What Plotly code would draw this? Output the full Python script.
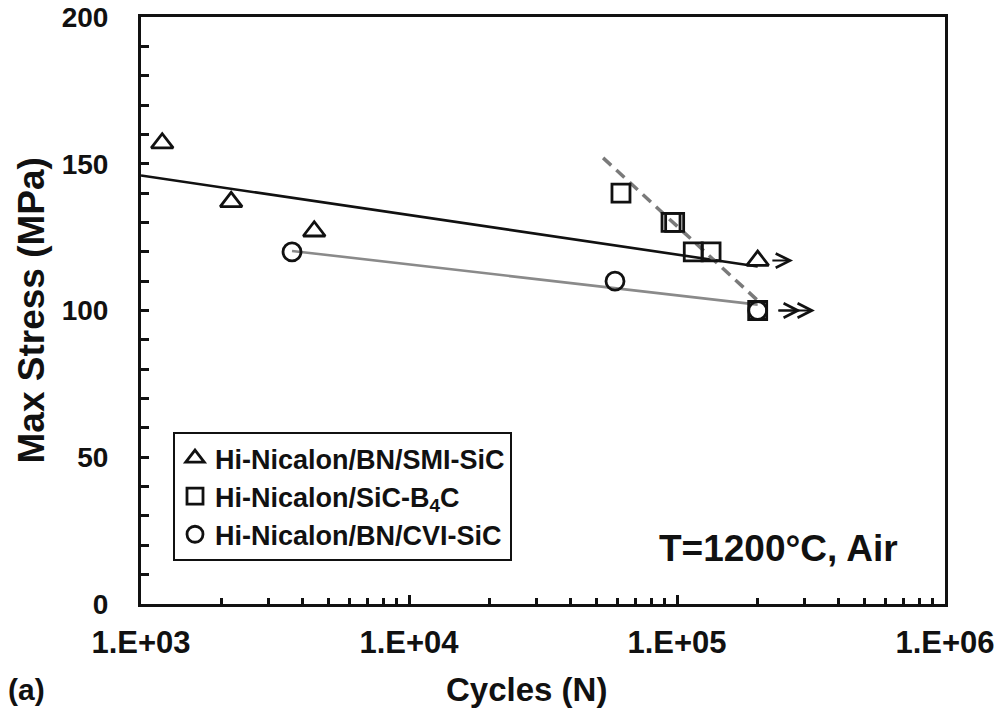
import numpy as np
import plotly.graph_objects as go

# ---------------- data ----------------
smi_cycles = [1200, 2170, 4430, 200000]
smi_stress = [157, 137, 127, 117]

b4c_cycles = [61800, 95000, 98000, 115000, 134000, 200000]
b4c_stress = [140, 130, 130, 120, 120, 100]

cvi_cycles = [3660, 58700, 200000]
cvi_stress = [120, 110, 100]

fit_smi_x = [1000, 200000]
fit_smi_y = [146, 115]
fit_cvi_x = [3660, 200000]
fit_cvi_y = [120.3, 102]
fit_b4c_x = [53000, 205000]
fit_b4c_y = [152, 102.5]

# run-out arrows: (tail cycles, head cycles, stress)
runout_arrows = [
    (224000, 271000, 117),
    (236000, 327000, 100),
    (236000, 290000, 100),
]

legend_names = ["Hi-Nicalon/BN/SMI-SiC", "Hi-Nicalon/SiC-B<sub>4</sub>C", "Hi-Nicalon/BN/CVI-SiC"]
xtick_vals = [1e3, 1e4, 1e5, 1e6]
xtick_text = ["1.E+03", "1.E+04", "1.E+05", "1.E+06"]
ytick_vals = [0, 50, 100, 150, 200]

FONT = "Liberation Sans, Arial, sans-serif"

fig = go.Figure()

# fit lines
fig.add_trace(go.Scatter(x=fit_smi_x, y=fit_smi_y, mode="lines",
                         line=dict(color="#111111", width=2.6), showlegend=False, hoverinfo="skip"))
fig.add_trace(go.Scatter(x=fit_cvi_x, y=fit_cvi_y, mode="lines",
                         line=dict(color="#8a8a8a", width=2.6), showlegend=False, hoverinfo="skip"))
fig.add_trace(go.Scatter(x=fit_b4c_x, y=fit_b4c_y, mode="lines",
                         line=dict(color="#7a7a7a", width=3.5, dash="11px,7px"), showlegend=False, hoverinfo="skip"))

mk_line = dict(color="#111111", width=2.8)
fig.add_trace(go.Scatter(x=smi_cycles, y=smi_stress, mode="markers", name=legend_names[0],
                         marker=dict(symbol="triangle-up-open", size=19, color="#111111", line=mk_line)))
fig.add_trace(go.Scatter(x=b4c_cycles, y=b4c_stress, mode="markers", name=legend_names[1],
                         marker=dict(symbol="square-open", size=18, color="#111111", line=mk_line)))
fig.add_trace(go.Scatter(x=cvi_cycles, y=cvi_stress, mode="markers", name=legend_names[2],
                         marker=dict(symbol="circle-open", size=18, color="#111111", line=mk_line)))

annotations = []
for tail, head, s in runout_arrows:
    annotations.append(dict(x=np.log10(head), y=s, ax=np.log10(tail), ay=s,
                            xref="x", yref="y", axref="x", ayref="y",
                            showarrow=True, arrowhead=5, arrowsize=1.4, arrowwidth=2,
                            arrowcolor="#111111", text=""))

# plot area: width 804, height 587 px
annotations += [
    dict(text="<b>T=1200°C, Air</b>", x=0.944, y=0.0954, xref="paper", yref="paper",
         xanchor="right", yanchor="middle", showarrow=False,
         font=dict(family=FONT, size=37, color="#111111")),
    dict(text="<b>Max Stress (MPa)</b>", x=-0.1368, y=0.5, xref="paper", yref="paper",
         xanchor="center", yanchor="middle", textangle=-90, showarrow=False,
         font=dict(family=FONT, size=37, color="#111111")),
    dict(text="<b>Cycles (N)</b>", x=0.479, y=-0.1465, xref="paper", yref="paper",
         xanchor="center", yanchor="middle", showarrow=False,
         font=dict(family=FONT, size=33, color="#111111")),
    dict(text="<b>(a)</b>", x=-0.1418, y=-0.1465, xref="paper", yref="paper",
         xanchor="center", yanchor="middle", showarrow=False,
         font=dict(family=FONT, size=30, color="#111111")),
]

minor_x = [m * 10 ** d for d in (3, 4, 5) for m in range(2, 10)]

fig.update_layout(
    width=997, height=715,
    margin=dict(l=141, r=52, t=17, b=111, autoexpand=False),
    paper_bgcolor="white", plot_bgcolor="white",
    font=dict(family=FONT, color="#111111"),
    annotations=annotations,
    legend=dict(x=0.0398, y=0.293, xanchor="left", yanchor="top",
                bordercolor="#111111", borderwidth=2, bgcolor="white",
                font=dict(family=FONT, size=27, color="#111111", weight="bold"),
                itemwidth=30, tracegroupgap=0),
    xaxis=dict(type="log", range=[3, 6], showgrid=False, zeroline=False, automargin=False,
               showline=True, linecolor="#111111", linewidth=3, mirror=True,
               ticks="inside", ticklen=9, tickwidth=2.5, tickcolor="#111111",
               tickvals=xtick_vals, ticktext=xtick_text,
               tickfont=dict(family=FONT, size=31, color="#111111", weight="bold"),
               ticklabelstandoff=9,
               minor=dict(tickvals=minor_x, ticks="inside", ticklen=6, tickwidth=2.5,
                          tickcolor="#111111", showgrid=False)),
    yaxis=dict(range=[0, 200], showgrid=False, zeroline=False, automargin=False,
               showline=True, linecolor="#111111", linewidth=3, mirror=True,
               ticks="inside", ticklen=8, tickwidth=2.5, tickcolor="#111111",
               tickvals=ytick_vals,
               tickfont=dict(family=FONT, size=28, color="#111111", weight="bold"),
               ticklabelstandoff=24,
               minor=dict(dtick=10, ticks="inside", ticklen=8, tickwidth=2.5,
                          tickcolor="#111111", showgrid=False)),
)

fig.write_html("out.html", config={"displayModeBar": False},
               post_script="document.body.style.margin='0';document.body.style.overflow='hidden';")
